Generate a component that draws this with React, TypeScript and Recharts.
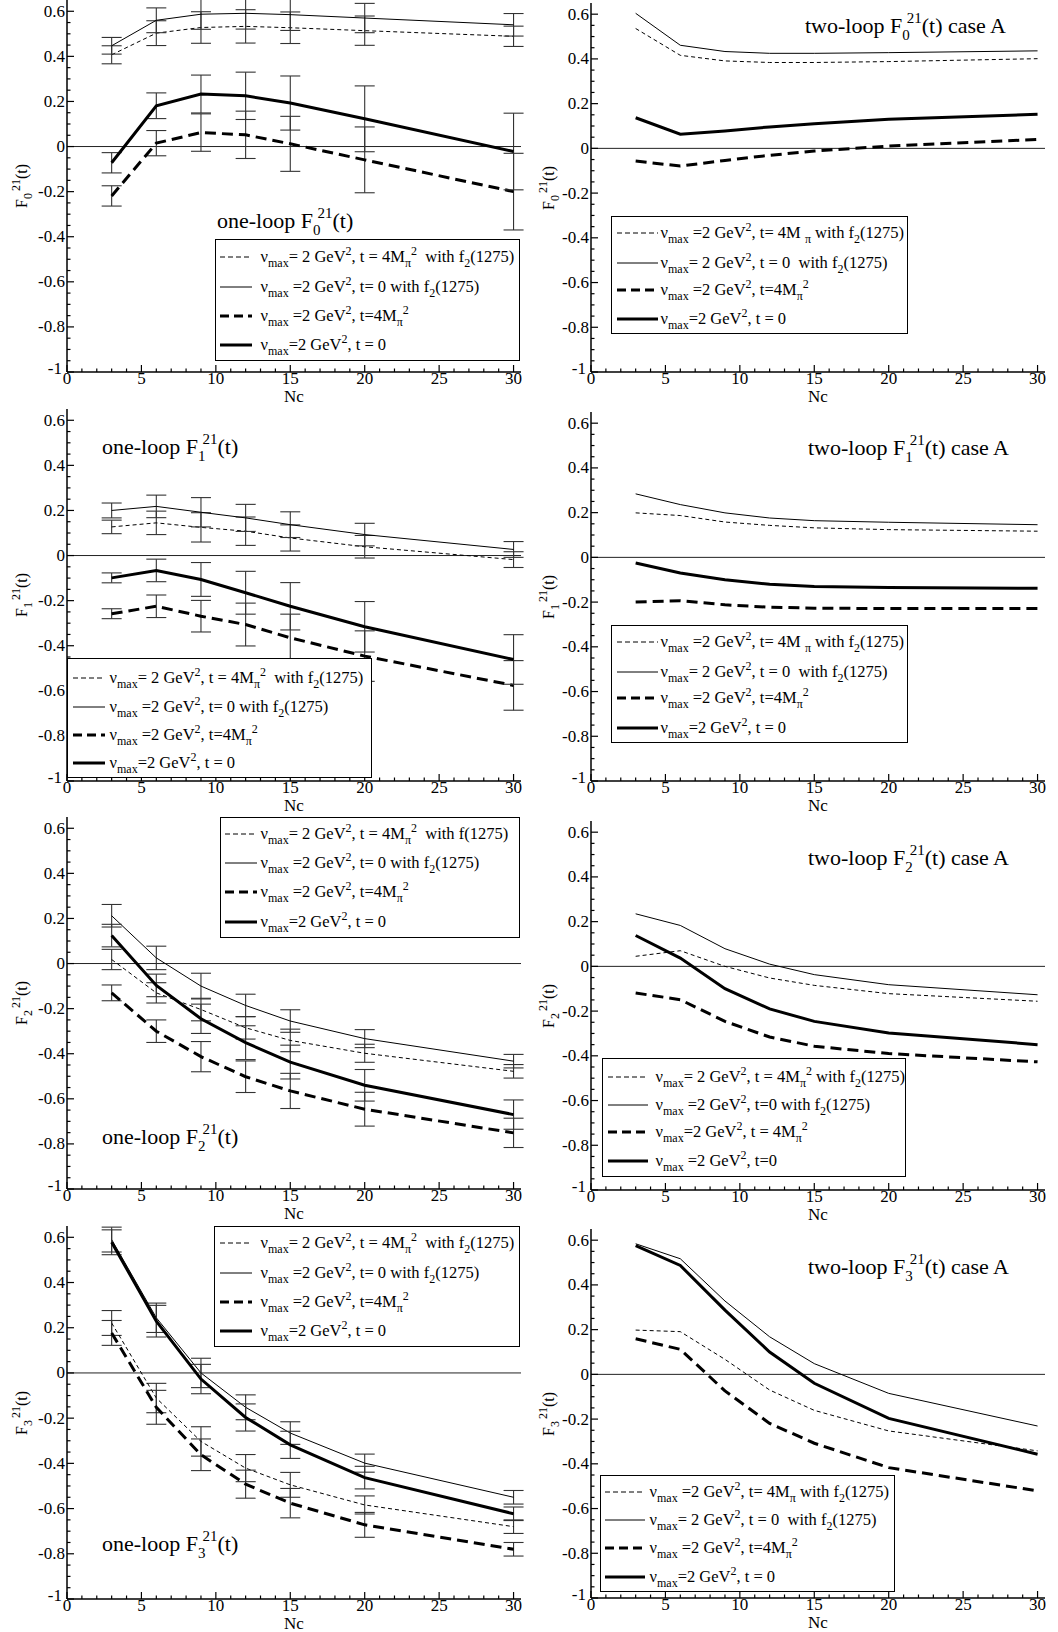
import React from 'react';
import { LineChart, Line, XAxis, YAxis, ErrorBar, ReferenceLine } from 'recharts';

const SERIF = '"Liberation Serif", "Times New Roman", serif';

// ---------- axes ----------
const NC = [3, 6, 9, 12, 15, 20, 30];
const X_MAJOR = [0, 5, 10, 15, 20, 25, 30];
const Y_MAJOR = [-1, -0.8, -0.6, -0.4, -0.2, 0, 0.2, 0.4, 0.6];
const X_TICKS = Array.from({ length: 31 }, (_, i) => i);
const Y_TICKS = Array.from({ length: 33 }, (_, i) => Math.round((-1 + i * 0.05) * 100) / 100);

// ---------- one-loop data (with errors) ----------
const ONE_F0_THIN_DASH = [0.407, 0.503, 0.528, 0.533, 0.527, 0.514, 0.489];
const ONE_F0_THIN_DASH_ERR = [0.04, 0.055, 0.07, 0.074, 0.07, 0.065, 0.045];
const ONE_F0_THIN_SOLID = [0.447, 0.56, 0.587, 0.591, 0.585, 0.57, 0.54];
const ONE_F0_THIN_SOLID_ERR = [0.037, 0.055, 0.067, 0.07, 0.07, 0.065, 0.05];
const ONE_F0_THICK_DASH = [-0.219, 0.015, 0.062, 0.052, 0.012, -0.059, -0.2];
const ONE_F0_THICK_DASH_ERR = [0.045, 0.056, 0.083, 0.105, 0.122, 0.146, 0.17];
const ONE_F0_THICK_SOLID = [-0.072, 0.181, 0.233, 0.225, 0.193, 0.123, -0.022];
const ONE_F0_THICK_SOLID_ERR = [0.045, 0.057, 0.084, 0.105, 0.12, 0.146, 0.17];

const ONE_F1_THIN_DASH = [0.127, 0.145, 0.125, 0.108, 0.078, 0.039, -0.018];
const ONE_F1_THIN_DASH_ERR = [0.03, 0.052, 0.065, 0.063, 0.058, 0.05, 0.035];
const ONE_F1_THIN_SOLID = [0.2, 0.218, 0.192, 0.167, 0.137, 0.093, 0.027];
const ONE_F1_THIN_SOLID_ERR = [0.033, 0.05, 0.065, 0.06, 0.057, 0.05, 0.035];
const ONE_F1_THICK_DASH = [-0.258, -0.225, -0.269, -0.306, -0.365, -0.446, -0.576];
const ONE_F1_THICK_DASH_ERR = [0.022, 0.05, 0.07, 0.095, 0.105, 0.112, 0.11];
const ONE_F1_THICK_SOLID = [-0.099, -0.066, -0.106, -0.165, -0.225, -0.316, -0.461];
const ONE_F1_THICK_SOLID_ERR = [0.022, 0.05, 0.075, 0.095, 0.105, 0.112, 0.11];

const ONE_F2_THIN_DASH = [0.018, -0.13, -0.204, -0.285, -0.341, -0.398, -0.478];
const ONE_F2_THIN_DASH_ERR = [0.045, 0.045, 0.05, 0.05, 0.05, 0.04, 0.03];
const ONE_F2_THIN_SOLID = [0.212, 0.025, -0.1, -0.186, -0.255, -0.333, -0.433];
const ONE_F2_THIN_SOLID_ERR = [0.05, 0.052, 0.057, 0.05, 0.05, 0.04, 0.03];
const ONE_F2_THICK_DASH = [-0.13, -0.3, -0.413, -0.502, -0.565, -0.646, -0.751];
const ONE_F2_THICK_DASH_ERR = [0.035, 0.05, 0.067, 0.07, 0.078, 0.075, 0.065];
const ONE_F2_THICK_SOLID = [0.124, -0.097, -0.245, -0.351, -0.437, -0.54, -0.67];
const ONE_F2_THICK_SOLID_ERR = [0.05, 0.05, 0.065, 0.075, 0.075, 0.07, 0.065];

const ONE_F3_THIN_DASH = [0.221, -0.111, -0.303, -0.421, -0.495, -0.584, -0.68];
const ONE_F3_THIN_DASH_ERR = [0.055, 0.065, 0.065, 0.06, 0.055, 0.04, 0.03];
const ONE_F3_THIN_SOLID = [0.59, 0.244, 0.0, -0.152, -0.266, -0.399, -0.55];
const ONE_F3_THIN_SOLID_ERR = [0.055, 0.065, 0.065, 0.055, 0.05, 0.04, 0.03];
const ONE_F3_THICK_DASH = [0.177, -0.152, -0.362, -0.492, -0.576, -0.672, -0.78];
const ONE_F3_THICK_DASH_ERR = [0.055, 0.075, 0.07, 0.062, 0.065, 0.055, 0.03];
const ONE_F3_THICK_SOLID = [0.578, 0.229, -0.027, -0.197, -0.318, -0.463, -0.623];
const ONE_F3_THICK_SOLID_ERR = [0.055, 0.07, 0.065, 0.06, 0.06, 0.05, 0.03];

// ---------- two-loop data ----------
const TWO_F0_THIN_DASH = [0.536, 0.416, 0.391, 0.384, 0.384, 0.388, 0.401];
const TWO_F0_THIN_SOLID = [0.604, 0.461, 0.433, 0.425, 0.425, 0.428, 0.436];
const TWO_F0_THICK_DASH = [-0.057, -0.079, -0.054, -0.031, -0.012, 0.01, 0.04];
const TWO_F0_THICK_SOLID = [0.137, 0.063, 0.078, 0.096, 0.11, 0.13, 0.152];

const TWO_F1_THIN_DASH = [0.199, 0.187, 0.158, 0.143, 0.132, 0.124, 0.117];
const TWO_F1_THIN_SOLID = [0.284, 0.236, 0.199, 0.176, 0.164, 0.157, 0.146];
const TWO_F1_THICK_DASH = [-0.2, -0.194, -0.212, -0.223, -0.227, -0.229, -0.229];
const TWO_F1_THICK_SOLID = [-0.025, -0.07, -0.1, -0.12, -0.13, -0.135, -0.138];

const TWO_F2_THIN_DASH = [0.045, 0.07, 0.0, -0.052, -0.085, -0.122, -0.156];
const TWO_F2_THIN_SOLID = [0.235, 0.183, 0.079, 0.01, -0.037, -0.082, -0.127];
const TWO_F2_THICK_DASH = [-0.119, -0.149, -0.246, -0.316, -0.357, -0.39, -0.427];
const TWO_F2_THICK_SOLID = [0.138, 0.037, -0.1, -0.19, -0.246, -0.298, -0.35];

const TWO_F3_THIN_DASH = [0.198, 0.191, 0.067, -0.07, -0.161, -0.253, -0.342];
const TWO_F3_THIN_SOLID = [0.584, 0.517, 0.328, 0.168, 0.048, -0.085, -0.231];
const TWO_F3_THICK_DASH = [0.159, 0.112, -0.074, -0.219, -0.308, -0.417, -0.521];
const TWO_F3_THICK_SOLID = [0.576, 0.487, 0.287, 0.1, -0.04, -0.197, -0.357];

// ---------- styles ----------
const KEYS = ['td', 'ts', 'kd', 'ks'] as const;
const STYLE: Record<string, { w: number; dash?: string; legDash?: string }> = {
  td: { w: 1, dash: '4 3', legDash: '5 3' },
  ts: { w: 1 },
  kd: { w: 3, dash: '11 6', legDash: '9 5' },
  ks: { w: 3 },
};

type S4 = { td: number[]; ts: number[]; kd: number[]; ks: number[] };

function buildRows(s: S4, e?: S4) {
  return NC.map((nc, i) => {
    const r: any = { nc };
    KEYS.forEach((k) => {
      r[k] = s[k][i];
      if (e) r[k + 'E'] = e[k][i];
    });
    return r;
  });
}

// ---------- text helpers ----------
const Sub = ({ c, s = 12, d = 5 }: any) => (
  <span style={{ fontSize: s, position: 'relative', top: d }}>{c}</span>
);
const Sup = ({ c, s = 12, d = -7 }: any) => (
  <span style={{ fontSize: s, position: 'relative', top: d }}>{c}</span>
);
const Nu = () => (
  <>
    ν<Sub c="max" />
  </>
);

const L_ONE = [
  <>
    <Nu />= 2 GeV<Sup c="2" />, t = 4M<Sub c="π" />
    <Sup c="2" />  with f<Sub c="2" />(1275)
  </>,
  <>
    <Nu /> =2 GeV<Sup c="2" />, t= 0 with f<Sub c="2" />(1275)
  </>,
  <>
    <Nu /> =2 GeV<Sup c="2" />, t=4M<Sub c="π" />
    <Sup c="2" />
  </>,
  <>
    <Nu />=2 GeV<Sup c="2" />, t = 0
  </>,
];
const L_ONE_F2 = [
  <>
    <Nu />= 2 GeV<Sup c="2" />, t = 4M<Sub c="π" />
    <Sup c="2" />  with f(1275)
  </>,
  L_ONE[1],
  L_ONE[2],
  L_ONE[3],
];
const L_TWO = [
  <>
    <Nu /> =2 GeV<Sup c="2" />, t= 4M <Sub c="π" /> with f<Sub c="2" />(1275)
  </>,
  <>
    <Nu />= 2 GeV<Sup c="2" />, t = 0  with f<Sub c="2" />(1275)
  </>,
  <>
    <Nu /> =2 GeV<Sup c="2" />, t=4M<Sub c="π" />
    <Sup c="2" />
  </>,
  <>
    <Nu />=2 GeV<Sup c="2" />, t = 0
  </>,
];
const L_TWO_F2 = [
  <>
    <Nu />= 2 GeV<Sup c="2" />, t = 4M<Sub c="π" />
    <Sup c="2" /> with f<Sub c="2" />(1275)
  </>,
  <>
    <Nu /> =2 GeV<Sup c="2" />, t=0 with f<Sub c="2" />(1275)
  </>,
  <>
    <Nu />=2 GeV<Sup c="2" />, t = 4M<Sub c="π" />
    <Sup c="2" />
  </>,
  <>
    <Nu /> =2 GeV<Sup c="2" />, t=0
  </>,
];
const L_TWO_F3 = [
  <>
    <Nu /> =2 GeV<Sup c="2" />, t= 4M<Sub c="π" /> with f<Sub c="2" />(1275)
  </>,
  L_TWO[1],
  L_TWO[2],
  L_TWO[3],
];

// ---------- panels ----------
type Cfg = {
  col: 0 | 1;
  plotTop: number;
  plotH: number;
  idx: string;
  one: boolean;
  s: S4;
  e?: S4;
  title: { x: number; top: number };
  leg: { x: number; y: number; w: number; h: number; rows: number[]; sx: number; sl: number; tx: number; texts: any[] };
};

const PANELS: Cfg[] = [
  {
    col: 0, plotTop: 0, plotH: 372, idx: '0', one: true,
    s: { td: ONE_F0_THIN_DASH, ts: ONE_F0_THIN_SOLID, kd: ONE_F0_THICK_DASH, ks: ONE_F0_THICK_SOLID },
    e: { td: ONE_F0_THIN_DASH_ERR, ts: ONE_F0_THIN_SOLID_ERR, kd: ONE_F0_THICK_DASH_ERR, ks: ONE_F0_THICK_SOLID_ERR },
    title: { x: 217, top: 210 },
    leg: { x: 215, y: 239, w: 305, h: 122, rows: [257, 287, 316, 345], sx: 220, sl: 32, tx: 261, texts: L_ONE },
  },
  {
    col: 1, plotTop: 3, plotH: 369, idx: '0', one: false,
    s: { td: TWO_F0_THIN_DASH, ts: TWO_F0_THIN_SOLID, kd: TWO_F0_THICK_DASH, ks: TWO_F0_THICK_SOLID },
    title: { x: 805, top: 15 },
    leg: { x: 611, y: 216, w: 297, h: 118, rows: [233, 263, 290, 319], sx: 617, sl: 41, tx: 661, texts: L_TWO },
  },
  {
    col: 0, plotTop: 409, plotH: 372, idx: '1', one: true,
    s: { td: ONE_F1_THIN_DASH, ts: ONE_F1_THIN_SOLID, kd: ONE_F1_THICK_DASH, ks: ONE_F1_THICK_SOLID },
    e: { td: ONE_F1_THIN_DASH_ERR, ts: ONE_F1_THIN_SOLID_ERR, kd: ONE_F1_THICK_DASH_ERR, ks: ONE_F1_THICK_SOLID_ERR },
    title: { x: 102, top: 436 },
    leg: { x: 67, y: 658, w: 305, h: 120, rows: [678, 707, 735, 763], sx: 73, sl: 32, tx: 110, texts: L_ONE },
  },
  {
    col: 1, plotTop: 412, plotH: 369, idx: '1', one: false,
    s: { td: TWO_F1_THIN_DASH, ts: TWO_F1_THIN_SOLID, kd: TWO_F1_THICK_DASH, ks: TWO_F1_THICK_SOLID },
    title: { x: 808, top: 437 },
    leg: { x: 611, y: 625, w: 297, h: 118, rows: [642, 672, 698, 728], sx: 617, sl: 41, tx: 661, texts: L_TWO },
  },
  {
    col: 0, plotTop: 817, plotH: 372, idx: '2', one: true,
    s: { td: ONE_F2_THIN_DASH, ts: ONE_F2_THIN_SOLID, kd: ONE_F2_THICK_DASH, ks: ONE_F2_THICK_SOLID },
    e: { td: ONE_F2_THIN_DASH_ERR, ts: ONE_F2_THIN_SOLID_ERR, kd: ONE_F2_THICK_DASH_ERR, ks: ONE_F2_THICK_SOLID_ERR },
    title: { x: 102, top: 1126 },
    leg: { x: 220, y: 817, w: 300, h: 121, rows: [834, 863, 892, 922], sx: 225, sl: 32, tx: 261, texts: L_ONE_F2 },
  },
  {
    col: 1, plotTop: 821, plotH: 369, idx: '2', one: false,
    s: { td: TWO_F2_THIN_DASH, ts: TWO_F2_THIN_SOLID, kd: TWO_F2_THICK_DASH, ks: TWO_F2_THICK_SOLID },
    title: { x: 808, top: 847 },
    leg: { x: 602, y: 1058, w: 304, h: 119, rows: [1077, 1105, 1132, 1161], sx: 608, sl: 40, tx: 656, texts: L_TWO_F2 },
  },
  {
    col: 0, plotTop: 1226, plotH: 373, idx: '3', one: true,
    s: { td: ONE_F3_THIN_DASH, ts: ONE_F3_THIN_SOLID, kd: ONE_F3_THICK_DASH, ks: ONE_F3_THICK_SOLID },
    e: { td: ONE_F3_THIN_DASH_ERR, ts: ONE_F3_THIN_SOLID_ERR, kd: ONE_F3_THICK_DASH_ERR, ks: ONE_F3_THICK_SOLID_ERR },
    title: { x: 102, top: 1533 },
    leg: { x: 214, y: 1226, w: 306, h: 121, rows: [1243, 1273, 1302, 1331], sx: 220, sl: 32, tx: 261, texts: L_ONE },
  },
  {
    col: 1, plotTop: 1229, plotH: 369, idx: '3', one: false,
    s: { td: TWO_F3_THIN_DASH, ts: TWO_F3_THIN_SOLID, kd: TWO_F3_THICK_DASH, ks: TWO_F3_THICK_SOLID },
    title: { x: 808, top: 1256 },
    leg: { x: 600, y: 1475, w: 295, h: 117, rows: [1492, 1520, 1548, 1577], sx: 605, sl: 40, tx: 650, texts: L_TWO_F3 },
  },
];

// ---------- ticks ----------
const isMajorX = (v: number) => X_MAJOR.includes(v);
const isMajorY = (v: number) => Y_MAJOR.some((m) => Math.abs(m - v) < 1e-6);

const BottomTick = (p: any) => {
  const v = p.payload.value;
  const M = isMajorX(v);
  return (
    <g>
      <line x1={p.x} x2={p.x} y1={p.y} y2={p.y - (M ? 7 : 3.5)} stroke="#000" strokeWidth={1.2} />
      {M && (
        <text x={p.x} y={p.y + 12} textAnchor="middle" fontSize={17} fontFamily={SERIF} fill="#000">
          {v}
        </text>
      )}
    </g>
  );
};
const TopTick = (p: any) => {
  const M = isMajorX(p.payload.value);
  return <line x1={p.x} x2={p.x} y1={p.y} y2={p.y + (M ? 7 : 3.5)} stroke="#000" strokeWidth={1.2} />;
};
const LeftTick = (p: any) => {
  const v = p.payload.value;
  const M = isMajorY(v);
  const isBottom = Math.abs(v + 1) < 1e-9;
  return (
    <g>
      <line x1={p.x} x2={p.x + (M ? 7 : 3.5)} y1={p.y} y2={p.y} stroke="#000" strokeWidth={1.2} />
      {M && (
        <text
          x={p.x - (isBottom ? 5 : 2)}
          y={p.y + (isBottom ? 2 : 5.5)}
          textAnchor="end"
          fontSize={17}
          fontFamily={SERIF}
          fill="#000"
        >
          {Math.abs(v) < 1e-9 ? '0' : String(v)}
        </text>
      )}
    </g>
  );
};
const RightTick = (p: any) => {
  const M = isMajorY(p.payload.value);
  return <line x1={p.x} x2={p.x - (M ? 7 : 3.5)} y1={p.y} y2={p.y} stroke="#000" strokeWidth={1.2} />;
};

const AXIS_LINE = { stroke: '#000', strokeWidth: 1.5 };

function Panel({ c }: { c: Cfg }) {
  const plotLeft = c.col === 0 ? 67 : 591;
  const chartLeft = plotLeft - 67;
  const chartTop = c.plotTop - 10;
  const H = 10 + c.plotH + 40;
  const data = buildRows(c.s, c.e);
  const L = c.leg;
  const plotBottom = c.plotTop + c.plotH;
  return (
    <>
      <div style={{ position: 'absolute', left: chartLeft, top: chartTop }}>
        <LineChart width={530} height={H} data={data} margin={{ top: 10, right: 9, left: 7, bottom: 0 }}>
          <XAxis
            xAxisId="b" dataKey="nc" type="number" domain={[0, 30.5]} ticks={X_TICKS} interval={0}
            tickSize={0} tickMargin={0} tickLine={false} tick={BottomTick} axisLine={AXIS_LINE} height={40}
          />
          <XAxis
            xAxisId="t" orientation="top" dataKey="nc" type="number" domain={[0, 30.5]} ticks={X_TICKS}
            interval={0} tickSize={0} tickMargin={0} tickLine={false} tick={TopTick} axisLine={AXIS_LINE} height={0}
          />
          <YAxis
            yAxisId="l" type="number" domain={[-1, 0.65]} ticks={Y_TICKS} interval={0} tickSize={0}
            tickMargin={0} tickLine={false} tick={LeftTick} axisLine={AXIS_LINE} width={60} allowDataOverflow
          />
          <YAxis
            yAxisId="r" orientation="right" type="number" domain={[-1, 0.65]} ticks={Y_TICKS} interval={0}
            tickSize={0} tickMargin={0} tickLine={false} tick={RightTick} axisLine={AXIS_LINE} width={0} allowDataOverflow
          />
          <ReferenceLine xAxisId="b" yAxisId="l" y={0} stroke="#222" strokeWidth={1} />
          {KEYS.map((k) => (
            <Line
              key={k}
              xAxisId="b"
              yAxisId="l"
              type="linear"
              dataKey={k}
              stroke="#000"
              strokeWidth={STYLE[k].w}
              strokeDasharray={STYLE[k].dash}
              dot={false}
              activeDot={false}
              isAnimationActive={false}
            >
              {c.e && <ErrorBar dataKey={k + 'E'} width={10} stroke="#333" strokeWidth={1.1} direction="y" />}
            </Line>
          ))}
        </LineChart>
      </div>

      {/* title */}
      <div
        style={{
          position: 'absolute', left: c.title.x, top: c.title.top, fontSize: 22, lineHeight: '22px',
          whiteSpace: 'pre', fontFamily: SERIF, color: '#000',
        }}
      >
        {c.one ? 'one-loop F' : 'two-loop F'}
        <span style={{ fontSize: 15, position: 'relative', top: 7, marginRight: -3 }}>{c.idx}</span>
        <span style={{ fontSize: 15, position: 'relative', top: -10 }}>21</span>
        (t){c.one ? '' : ' case A'}
      </div>

      {/* y label */}
      <div
        style={{
          position: 'absolute', left: c.col === 0 ? 22 : 549, top: c.plotTop + c.plotH / 2,
          transform: 'translate(-50%, -50%) rotate(-90deg)', fontSize: 16, lineHeight: '20px',
          whiteSpace: 'pre', fontFamily: SERIF, color: '#000',
        }}
      >
        F<span style={{ fontSize: 12, position: 'relative', top: 5 }}>{c.idx}</span>
        <span style={{ fontSize: 12, position: 'relative', top: -7, marginLeft: 2 }}>21</span>(t)
      </div>

      {/* x label */}
      <div
        style={{
          position: 'absolute', left: plotLeft + 227, top: plotBottom + 15, transform: 'translateX(-50%)',
          fontSize: 17, lineHeight: '19px', fontFamily: SERIF, color: '#000',
        }}
      >
        Nc
      </div>

      {/* legend */}
      <div
        style={{
          position: 'absolute', left: L.x, top: L.y, width: L.w, height: L.h, border: '1.5px solid #000',
          boxSizing: 'border-box', background: '#fff', fontFamily: SERIF, color: '#000',
        }}
      >
        {KEYS.map((k, i) => (
          <React.Fragment key={k}>
            <svg
              width={L.sl}
              height={10}
              style={{ position: 'absolute', left: L.sx - L.x - 1.5, top: L.rows[i] - L.y - 1.5 - 5 }}
            >
              <line
                x1={0} x2={L.sl} y1={5} y2={5} stroke="#000" strokeWidth={STYLE[k].w}
                strokeDasharray={STYLE[k].legDash}
              />
            </svg>
            <div
              style={{
                position: 'absolute', left: L.tx - L.x - 1.5, top: L.rows[i] - L.y - 1.5 - 12,
                lineHeight: '24px', fontSize: 16.5, whiteSpace: 'pre',
              }}
            >
              {L.texts[i]}
            </div>
          </React.Fragment>
        ))}
      </div>
    </>
  );
}

export default function App() {
  return (
    <div
      style={{
        position: 'absolute', left: 0, top: 0, width: 1058, height: 1632, background: '#fff',
        overflow: 'hidden', fontFamily: SERIF,
      }}
    >
      {PANELS.map((c, i) => (
        <Panel key={i} c={c} />
      ))}
    </div>
  );
}
